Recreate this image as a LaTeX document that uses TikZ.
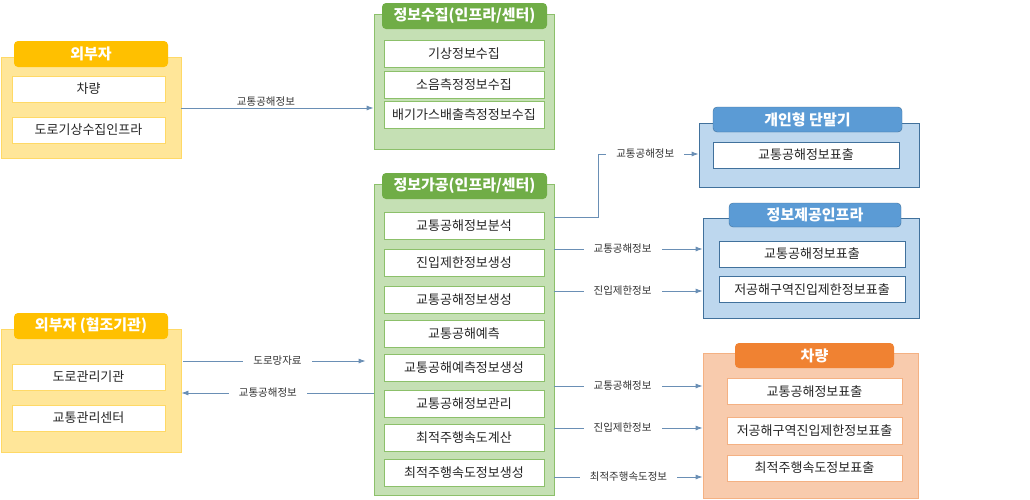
\documentclass[tikz,border=0pt]{standalone}
\usepackage{fontspec}
\setmainfont{Noto Sans CJK KR}
\usetikzlibrary{arrows.meta}
\definecolor{yhd}{HTML}{FFC000}
\definecolor{ypn}{HTML}{FFE699}
\definecolor{ydr}{HTML}{FFD966}
\definecolor{ghd}{HTML}{70AD47}
\definecolor{gpn}{HTML}{C5E0B4}
\definecolor{gdr}{HTML}{8CC06A}
\definecolor{bhd}{HTML}{5B9BD5}
\definecolor{bpn}{HTML}{BDD7EE}
\definecolor{bdr}{HTML}{41719C}
\definecolor{ohd}{HTML}{F08232}
\definecolor{opn}{HTML}{F8CBAD}
\definecolor{odr}{HTML}{F4B183}
\definecolor{ln}{HTML}{6A8FB5}
\tikzset{pn/.append style={draw, line width=0.8pt, minimum width=180pt, inner sep=0pt}}
\tikzset{hd/.append style={rounded corners=4pt, text=white, font=\fontsize{15}{17}\selectfont\bfseries, minimum height=26pt, inner sep=0pt}}
\tikzset{bx/.append style={draw, fill=white, line width=0.6pt, font=\fontsize{13}{15}\selectfont, text=black!85, minimum height=27pt, inner sep=0pt}}
\tikzset{ar/.append style={draw=ln, line width=0.8pt, -{Latex[length=7pt,width=5pt]}}}
\tikzset{lb/.append style={font=\fontsize{10.5}{12}\selectfont, text=black!80, fill=white, inner xsep=10pt, inner ysep=1pt}}

\begin{document}
\begin{tikzpicture}[x=1pt,y=-1pt]
                \useasboundingbox (0,0) rectangle (1030,499);
                % outer parties
                \node[pn,fill=ypn,draw=ydr,minimum width=180pt,minimum height=101pt] (e1) at (91,107.5) {};
                \node[hd,fill=yhd,minimum width=154pt] (e1h) at (91,54) {외부자};
                \node[bx,draw=ydr,minimum width=153pt,minimum height=26pt] (e1a) at (88.5,89) {차량};
                \node[bx,draw=ydr,minimum width=153pt,minimum height=26pt] (e1b) at (88.5,130) {도로기상수집인프라};
                \node[pn,fill=ypn,draw=ydr,minimum width=180pt,minimum height=123pt] (e2) at (91,390.5) {};
                \node[hd,fill=yhd,minimum width=154pt] (e2h) at (91,326) {외부자 (협조기관)};
                \node[bx,draw=ydr,minimum width=153pt,minimum height=26pt] (e2a) at (88.5,377) {도로관리기관};
                \node[bx,draw=ydr,minimum width=153pt,minimum height=26pt] (e2b) at (88.5,418) {교통관리센터};
                % collection
                \node[pn,fill=gpn,draw=gdr,minimum height=135pt] (c1) at (464,81.5) {};
                \node[hd,fill=ghd,minimum width=165pt] (c1h) at (464.5,16) {정보수집(인프라/센터)};
                \node[bx,draw=gdr,minimum width=160pt] (c1a) at (464,53.5) {기상정보수집};
                \node[bx,draw=gdr,minimum width=160pt] (c1b) at (464,84.5) {소음측정정보수집};
                \node[bx,draw=gdr,minimum width=160pt] (c1c) at (464,115) {배기가스배출측정정보수집};
                % processing
                \node[pn,fill=gpn,draw=gdr,minimum height=311pt] (g2) at (464,339.5) {};
                \node[hd,fill=ghd,minimum width=165pt] (g2h) at (464.5,186) {정보가공(인프라/센터)};
                \node[bx,draw=gdr,minimum width=160pt] (g2a) at (464,225.5) {교통공해정보분석};
                \node[bx,draw=gdr,minimum width=160pt] (g2b) at (464,263) {진입제한정보생성};
                \node[bx,draw=gdr,minimum width=160pt] (g2c) at (464,300) {교통공해정보생성};
                \node[bx,draw=gdr,minimum width=160pt] (g2d) at (464,334) {교통공해예측};
                \node[bx,draw=gdr,minimum width=160pt] (g2e) at (464,368) {교통공해예측정보생성};
                \node[bx,draw=gdr,minimum width=160pt] (g2f) at (464,403.5) {교통공해정보관리};
                \node[bx,draw=gdr,minimum width=160pt] (g2g) at (464,438) {최적주행속도계산};
                \node[bx,draw=gdr,minimum width=160pt] (g2h2) at (464,473) {최적주행속도정보생성};
                % personal terminal
                \node[pn,fill=bpn,draw=bdr,minimum width=220pt,minimum height=64pt] (b1) at (809,155) {};
                \node[hd,fill=bhd,draw=bdr,minimum width=189pt,minimum height=25pt] (b1h) at (807.5,119.5) {개인형 단말기};
                \node[bx,draw=bdr,minimum width=186pt,minimum height=26pt] (b1a) at (806,155) {교통공해정보표출};
                % info infra
                \node[pn,fill=bpn,draw=bdr,minimum width=216pt,minimum height=100pt] (b2) at (811,268) {};
                \node[hd,fill=bhd,draw=bdr,minimum width=172pt,minimum height=24pt] (b2h) at (815,215) {정보제공인프라};
                \node[bx,draw=bdr,minimum width=186pt,minimum height=26pt] (b2a) at (812,254) {교통공해정보표출};
                \node[bx,draw=bdr,minimum width=186pt,minimum height=26pt] (b2b) at (812,289.5) {저공해구역진입제한정보표출};
                % vehicle
                \node[pn,fill=opn,draw=odr,minimum width=215pt,minimum height=145pt] (o1) at (810.5,425.5) {};
                \node[hd,fill=ohd,minimum width=159pt,minimum height=25pt] (o1h) at (814.5,355.5) {차량};
                \node[bx,draw=odr,minimum width=175pt,minimum height=26pt] (o1a) at (814.5,391.5) {교통공해정보표출};
                \node[bx,draw=odr,minimum width=175pt,minimum height=27pt] (o1b) at (814.5,430.5) {저공해구역진입제한정보표출};
                \node[bx,draw=odr,minimum width=175pt,minimum height=26pt] (o1c) at (814.5,468) {최적주행속도정보표출};
                % flows
                \draw[ar] (e1.east |- 0,108) -- node[lb,fill=none,above,pos=0.44]{교통공해정보} (c1.west |- 0,108);
                \draw[ar,shorten <=2pt,shorten >=8pt] (e2.east |- 0,361) -- node[lb]{도로망자료} (g2.west |- 0,361);
                \draw[ar] (g2.west |- 0,393) -- node[lb,pos=0.55]{교통공해정보} (e2.east |- 0,393);
                \coordinate (k1) at (598,154);
                \draw[ar] (g2.east |- 0,217) -| (k1) -- node[lb,pos=0.47]{교통공해정보} (k1 -| b1.west);
                \draw[ar] (g2.east |- 0,249) -- node[lb,pos=0.46]{교통공해정보} (b2.west |- 0,249);
                \draw[ar] (g2.east |- 0,291) -- node[lb,pos=0.46]{진입제한정보} (b2.west |- 0,291);
                \draw[ar] (g2.east |- 0,386) -- node[lb,pos=0.46]{교통공해정보} (o1.west |- 0,386);
                \draw[ar] (g2.east |- 0,428) -- node[lb,pos=0.46]{진입제한정보} (o1.west |- 0,428);
                \draw[ar] (g2.east |- 0,477) -- node[lb,pos=0.5]{최적주행속도정보} (o1.west |- 0,477);
            \end{tikzpicture}
\end{document}
